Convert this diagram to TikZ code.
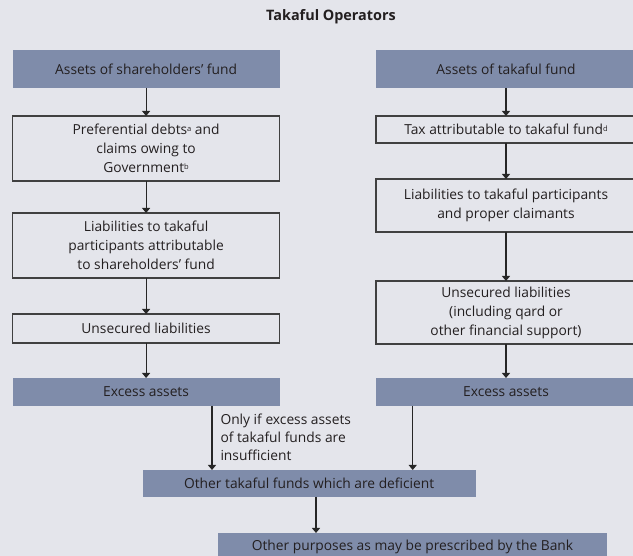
\documentclass[tikz,border=0pt]{standalone}
\usepackage{fontspec}
\setmainfont{Open Sans}
\usepackage{xcolor}
\usetikzlibrary{arrows.meta}
\definecolor{pagegray}{RGB}{228,229,235}
\definecolor{fundblue}{RGB}{127,140,170}
\definecolor{inkgray}{RGB}{35,31,32}
\newcommand\notemark[1]{\raisebox{0.5ex}{\fontsize{7.5}{8}\selectfont #1}}

\begin{document}
\begin{tikzpicture}[x=1pt, y=-1pt,
    every node/.style={inner sep=0pt, outer sep=0pt, text=inkgray, align=center,
      font=\fontsize{13.8}{19}\selectfont},
    fundbox/.style={fill=fundblue},
    linebox/.style={draw=black!75, line width=1.1pt},
    leftcol/.style={minimum width=266.8pt},
    rightcol/.style={minimum width=260pt},
    flow/.style={-{Triangle[width=8pt,length=5pt]}, line width=1.1pt, draw=black!85}]
  \fill[pagegray] (0,0) rectangle (633,556);
  \useasboundingbox (0,0) rectangle (633,556);

  \node[font=\fontsize{14.4}{16}\selectfont\bfseries] (title) at (331,17) {Takaful Operators};

  % shareholders' fund
  \node[fundbox, leftcol, minimum height=38pt] (lassets) at (146.1,69) {Assets of shareholders' fund};
  \node[linebox, leftcol, minimum height=65pt] (lpref) at (146.1,148.5)
    {Preferential debts\notemark{a} and\\claims owing to\\Government\notemark{b}};
  \node[linebox, leftcol, minimum height=65pt] (lliab) at (146.1,245.5)
    {Liabilities to takaful\\participants attributable\\to shareholders' fund};
  \node[linebox, leftcol, minimum height=29pt] (lunsec) at (146.1,328.5) {Unsecured liabilities};
  \node[fundbox, leftcol, minimum height=28pt] (lexcess) at (146.1,392) {Excess assets};

  % takaful fund
  \node[fundbox, rightcol, minimum height=38pt] (rassets) at (506,69) {Assets of takaful fund};
  \node[linebox, rightcol, minimum height=27pt] (rtax) at (506,129.5)
    {Tax attributable to takaful fund\notemark{d}};
  \node[linebox, rightcol, minimum height=53pt] (rliab) at (506,205.5)
    {Liabilities to takaful participants\\and proper claimants};
  \node[linebox, rightcol, minimum height=63pt] (runsec) at (506,312.5)
    {Unsecured liabilities\\(including qard or\\other financial support)};
  \node[fundbox, rightcol, minimum height=28pt] (rexcess) at (506,392) {Excess assets};

  % where the excess goes
  \node[fundbox, minimum width=333pt, minimum height=27pt] (deficient) at (309.2,483.5)
    {Other takaful funds which are deficient};
  \node[fundbox, minimum width=389pt, minimum height=28pt] (purposes) at (412.5,547)
    {Other purposes as may be prescribed by the Bank};
  \node[anchor=west, align=left, font=\fontsize{13.8}{18}\selectfont] (onlyif) at (220.5,437)
    {Only if excess assets\\of takaful funds are\\insufficient};

  \foreach \a/\b in {lassets/lpref, lpref/lliab, lliab/lunsec, lunsec/lexcess,
                     rassets/rtax, rtax/rliab, rliab/runsec, runsec/rexcess}
    \draw[flow] (\a) -- (\b);
  \coordinate (lx) at (212,0);
  \coordinate (rx) at (412.7,0);
  \coordinate (mx) at (316,0);
  \draw[flow] (lexcess.south -| lx) -- (deficient.north -| lx);
  \draw[flow] (rexcess.south -| rx) -- (deficient.north -| rx);
  \draw[flow] (deficient.south -| mx) -- (purposes.north -| mx);
\end{tikzpicture}
\end{document}
